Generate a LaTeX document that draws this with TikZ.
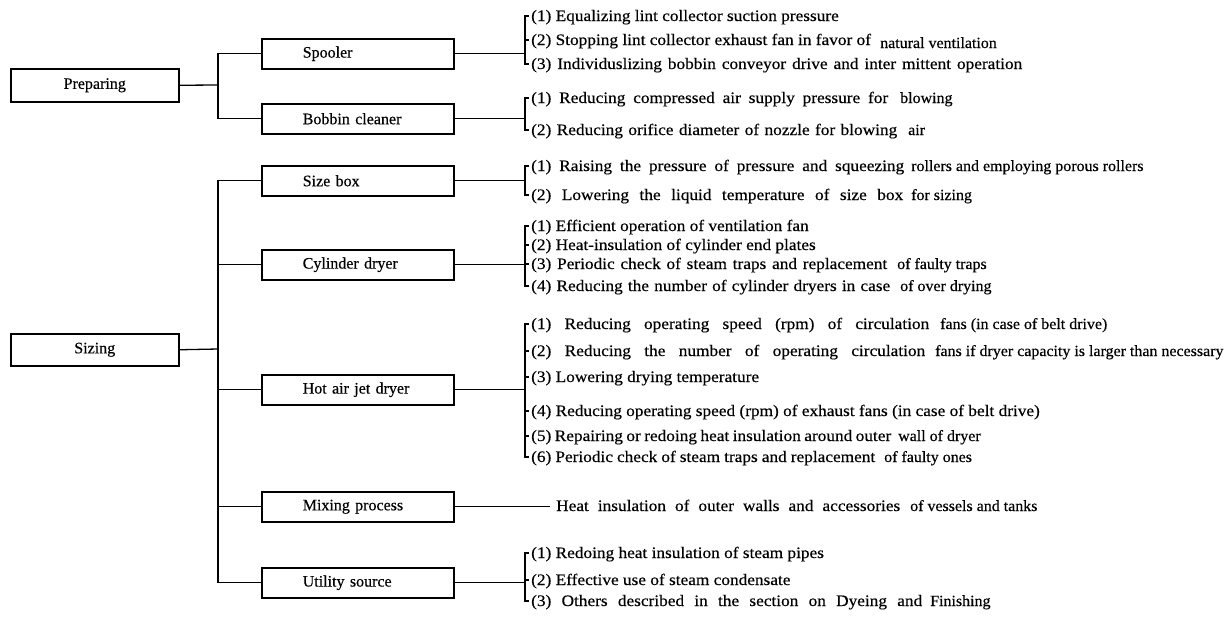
\documentclass[tikz,border=0pt]{standalone}
\usepackage{fontspec}
\setmainfont{Liberation Serif}
\newfontfamily\itemfam[FakeStretch=1.08, FakeBold=0.4]{Liberation Serif}
\newfontfamily\tailfam[FakeStretch=1.03, FakeBold=0.4]{Liberation Serif}
\newfontfamily\plainfam[FakeBold=0.4]{Liberation Serif}
\newcommand\itemfont{\itemfam\fontsize{16}{18}\selectfont}
\newcommand\tailfont{\tailfam\fontsize{15.5}{17}\selectfont}
\newcommand\boxfont{\plainfam\fontsize{16}{18}\selectfont}
% one measure in a list: tick coordinate on the bracket, then the text beside it
\newcommand\measure[3]{%
  \coordinate (#1t) at (525,#2);
  \node[itm] (#1) at ([xshift=6pt,yshift=-5pt]#1t) {#3};}
\begin{document}
\begin{tikzpicture}[x=1pt,y=-1pt,
  every node/.style={inner sep=0pt},
  catbox/.style={draw, line width=1.5pt, minimum width=168pt, minimum height=33pt,
    anchor=north west, font=\boxfont},
  subbox/.style={draw, line width=1.5pt, minimum height=30pt, text width=188pt,
    inner xsep=2pt, align=left, anchor=north west, font=\boxfont},
  wire/.style={line width=1.3pt},
  itm/.style={anchor=base west, font=\itemfont},
  tail/.style={anchor=base west, font=\tailfont},
]
\useasboundingbox (0,0) rectangle (1231,619);

% ---------- main categories ----------
\node[catbox] (prep)   at (10,68)  {Preparing};
\node[catbox, minimum height=32pt] (sizing) at (10,333) {Sizing};

% ---------- machines ----------
\node[subbox] (spool) at (261,38)  {\hspace*{39pt}Spooler};
\node[subbox] (bobb)  at (261,103) {\hspace*{39pt}Bobbin cleaner};
\node[subbox] (sbox)  at (261,165) {\hspace*{39pt}Size box};
\node[subbox] (cyl)   at (261,249) {\hspace*{39pt}Cylinder dryer};
\node[subbox] (hot)   at (261,374) {\hspace*{39pt}Hot air jet dryer};
\node[subbox] (mix)   at (261,491) {\hspace*{39pt}Mixing process};
\node[subbox] (util)  at (261,567) {\hspace*{39pt}Utility source};

% ---------- tree connectors ----------
\coordinate (jp) at (218,85);
\coordinate (js) at (218,349);
\draw[wire] (prep.east) -- (jp);
\draw[wire] (spool.west) -| (jp) |- (bobb.west);
\draw[wire] (sizing.east) -- (js);
\draw[wire] (sbox.west) -| (js) |- (util.west);
\draw[wire] (cyl.west) -- (cyl.west -| js);
\draw[wire] (hot.west) -- (hot.west -| js);
\draw[wire] (mix.west) -- (mix.west -| js);

% ---------- Spooler ----------
\measure{s1}{16}{(1) Equalizing lint collector suction pressure}
\measure{s2}{40}{(2) Stopping lint collector exhaust fan in favor of}
\measure{s3}{64}{\makebox[491pt][s]{(3) Individuslizing bobbin conveyor drive and inter mittent operation}}
\node[tail] (s2b) at (880,48) {natural ventilation};

% ---------- Bobbin cleaner ----------
\measure{b1}{98}{\makebox[357pt][s]{(1) Reducing compressed air supply pressure for}}
\measure{b2}{130}{\makebox[366pt][s]{(2) Reducing orifice diameter of nozzle for blowing}}
\node[tail] (b1b) at (900,103) {blowing};
\node[tail] (b2b) at (908,135) {air};

% ---------- Size box ----------
\measure{z1}{166}{\makebox[373pt][s]{(1) Raising the pressure of pressure and squeezing}}
\measure{z2}{195}{\makebox[372pt][s]{(2) Lowering the liquid temperature of size box}}
\node[tail] (z1b) at (911,171) {rollers and employing porous rollers};
\node[tail] (z2b) at (911,200) {for sizing};

% ---------- Cylinder dryer ----------
\measure{c1}{226}{(1) Efficient operation of ventilation fan}
\measure{c2}{245}{(2) Heat-insulation of cylinder end plates}
\measure{c3}{264}{\makebox[356pt][s]{(3) Periodic check of steam traps and replacement}}
\measure{c4}{286}{\makebox[359pt][s]{(4) Reducing the number of cylinder dryers in case}}
\node[tail] (c3b) at (897,269) {of faulty traps};
\node[tail] (c4b) at (900,291) {of over drying};

% ---------- Hot air jet dryer ----------
\measure{h1}{324}{\makebox[398pt][s]{(1) Reducing operating speed (rpm) of circulation}}
\measure{h2}{351}{\makebox[394pt][s]{(2) Reducing the number of operating circulation}}
\measure{h3}{377}{(3) Lowering drying temperature}
\measure{h4}{411}{(4) Reducing operating speed (rpm) of exhaust fans (in case of belt drive)}
\measure{h5}{436}{\makebox[360pt][s]{(5) Repairing or redoing heat insulation around outer}}
\measure{h6}{457}{\makebox[344pt][s]{(6) Periodic check of steam traps and replacement}}
\node[tail] (h1b) at (940,329) {fans (in case of belt drive)};
\node[tail] (h2b) at (935,356) {fans if dryer capacity is larger than necessary};
\node[tail] (h5b) at (898,441) {wall of dryer};
\node[tail] (h6b) at (884,462) {of faulty ones};

% ---------- Mixing process ----------
\node[itm] (m1) at (556,511) {\makebox[344pt][s]{Heat insulation of outer walls and accessories}};
\node[tail] (m1b) at (910,511) {of vessels and tanks};

% ---------- Utility source ----------
\measure{u1}{553}{(1) Redoing heat insulation of steam pipes}
\measure{u2}{580}{(2) Effective use of steam condensate}
\measure{u3}{601}{\makebox[391pt][s]{(3) Others described in the section on Dyeing and}}
\node[tail] (u3b) at (930,606) {Finishing};

% ---------- machine to measures ----------
\draw[wire] (spool.east) -- (spool.east -| s1t);
\draw[wire] (bobb.east)  -- (bobb.east -| b1t);
\draw[wire] (sbox.east)  -- (sbox.east -| z1t);
\draw[wire] (cyl.east)   -- (cyl.east -| c1t);
\draw[wire] (hot.east)   -- (hot.east -| h1t);
\draw[wire] (util.east)  -- (util.east -| u1t);
\draw[wire] (mix.east)   -- ([xshift=-6pt]mix.east -| m1.west);

% ---------- brackets ----------
\foreach \a/\b in {s1/s3, b1/b2, z1/z2, c1/c4, h1/h6, u1/u3}
  \draw[wire] ([xshift=4pt]\a t) -- (\a t) -- (\b t) -- ([xshift=4pt]\b t);
\foreach \m in {s2, c2, c3, h2, h3, h4, h5, u2}
  \draw[wire] (\m t) -- ([xshift=3.5pt]\m t);
\end{tikzpicture}
\end{document}
